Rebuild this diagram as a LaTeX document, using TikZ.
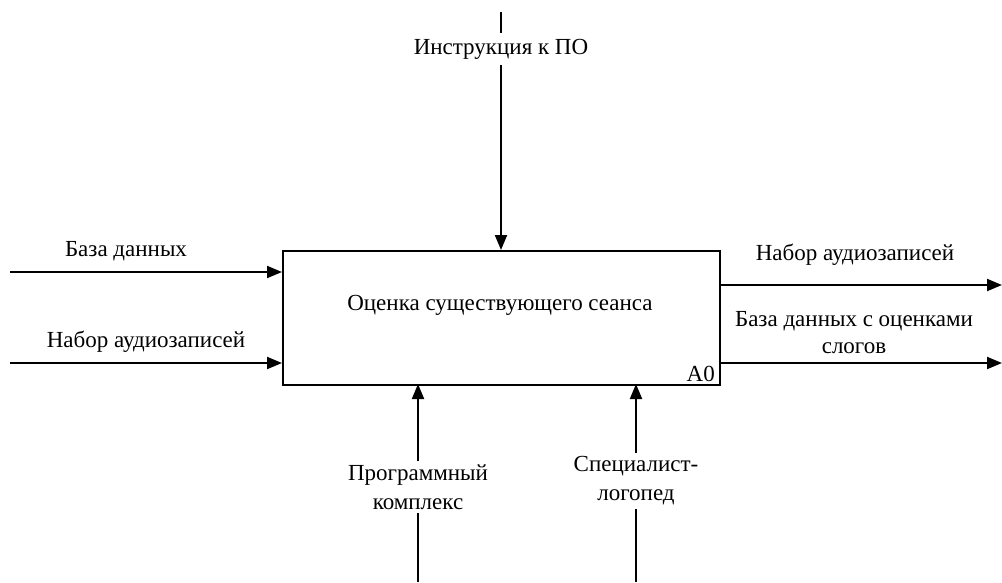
\documentclass[tikz,border=0pt]{standalone}
\usepackage{fontspec}
\setmainfont{Liberation Serif}
\usetikzlibrary{arrows.meta}
\begin{document}
\begin{tikzpicture}[x=1pt,y=-1pt,
  lbl/.style={font=\fontsize{23}{27}\selectfont, inner sep=1pt, align=center},
  conn/.style={line width=2pt, -{Triangle[length=15pt,width=12pt]}},
  seg/.style={line width=2pt}]
\useasboundingbox (0,0) rectangle (1002,582);
\node[draw, line width=1.6pt, minimum width=437pt, minimum height=134pt, anchor=north west, inner sep=0] (box) at (282,250) {};
\node[lbl] (t) at (500,305) {Оценка существующего сеанса};
\node[lbl, anchor=south east] (a0) at (716,383) {A0};
% top control
\coordinate (ctop) at (501,12);
\node[lbl, inner ysep=0pt, minimum height=32pt] (ctl) at (501,49) {Инструкция к ПО};
\draw[seg] (ctop) -- (ctl.north);
\draw[conn] (ctl.south) -- (501,250);
% inputs
\coordinate (i1) at (10,272);
\coordinate (i2) at (10,363);
\draw[conn] (i1) -- (282,272);
\draw[conn] (i2) -- (282,363);
\node[lbl] (il1) at (126,251) {База данных};
\node[lbl] (il2) at (146,342) {Набор аудиозаписей};
% outputs
\coordinate (o1) at (1002,285);
\coordinate (o2) at (1002,363);
\draw[conn] (719,285) -- (o1);
\draw[conn] (719,363) -- (o2);
\node[lbl] (ol1) at (855,255) {Набор аудиозаписей};
\node[lbl] (ol2) at (854,333) {База данных с оценками\\слогов};
% mechanisms
\coordinate (m1) at (418,582);
\coordinate (m2) at (636,582);
\node[lbl, font=\fontsize{23}{29}\selectfont, inner ysep=3pt] (ml1) at (418,487) {Программный\\комплекс};
\node[lbl, font=\fontsize{23}{29}\selectfont, inner ysep=3pt] (ml2) at (636,481) {Специалист-\\логопед};
\draw[seg] (m1) -- (ml1.south);
\draw[conn] (ml1.north) -- (418,384);
\draw[seg] (m2) -- (ml2.south);
\draw[conn] (ml2.north) -- (636,384);
\end{tikzpicture}
\end{document}
